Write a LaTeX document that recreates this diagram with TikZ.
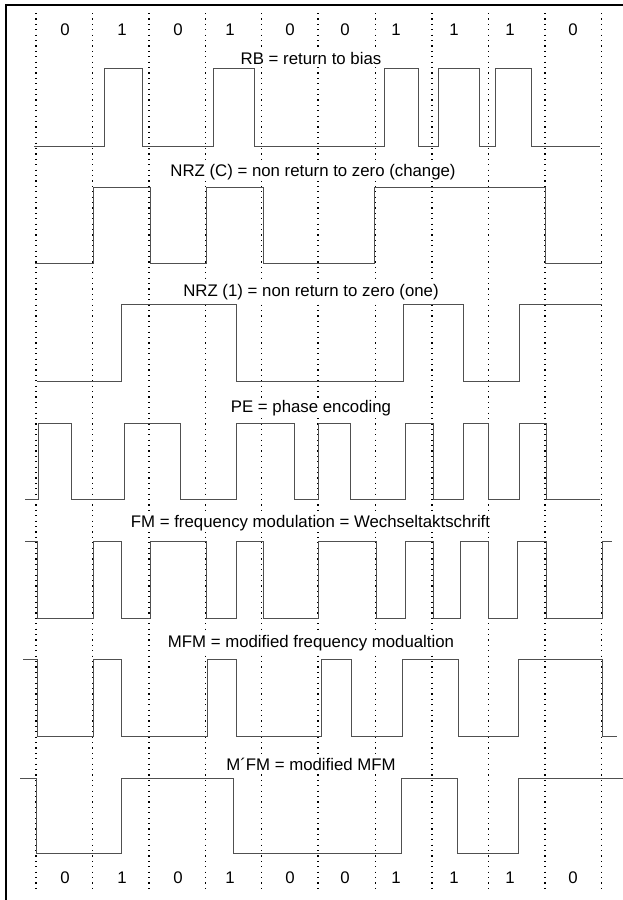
\documentclass[tikz,border=0pt]{standalone}
\usepackage{fontspec}
\setmainfont{Liberation Sans}
\usepackage{xcolor}
\definecolor{ink}{RGB}{0,0,0}
\definecolor{wave}{RGB}{80,80,80}
\tikzset{
  clockline/.style={line width=1.1pt,dash pattern=on 1.1pt off 4.3pt,ink},
  sig/.style={line width=1pt,wave},
  lbl/.style={font=\fontsize{16.8}{20}\selectfont,fill=white,inner sep=1.5pt},
  bit/.style={font=\fontsize{16.8}{20}\selectfont,inner sep=0pt},
  edgeline/.style={line width=2pt,ink},
}

\begin{document}
\begin{tikzpicture}[x=1pt,y=-1pt]
  \useasboundingbox (0,0) rectangle (623,900);
  \draw[edgeline] (5.5,900) -- (5.5,4.5) -- (623,4.5);
  % bit cell boundaries
  \foreach \x in {36,92.7,149,205.3,261.7,318,375.7,432,488.3,545,601.7}
    \draw[clockline] (\x,13) -- (\x,893);
  % bit values, top and bottom
  \foreach \x/\b [count=\i] in {65/0,122/1,178/0,230/1,290/0,345/0,396/1,454/1,510/1,573/0}{
    \node[bit] (t\i) at (\x,30) {\b};
    \node[bit] (b\i) at (\x,878) {\b};
  }
  % RB
  \draw[sig] (34,146) -| (104,68) -| (142,146) -| (213,68) -| (254,146) -| (384,68)
    -| (418,146) -| (438,68) -| (479,146) -| (495,68) -| (531,146) -- (600,146);
  \node[lbl] (rb) at (311,58) {RB = return to bias};
  % NRZ (C)
  \draw[sig] (35,263) -| (93,187) -| (150,263) -| (206,187) -| (263,263) -| (374,187)
    -| (545,263) -- (602,263);
  \node[lbl] (nrzc) at (313,172) {NRZ (C) = non return to zero (change)};
  % NRZ (1)
  \draw[sig] (37,381) -| (121,304) -| (236,381) -| (403,304) -| (463,381) -| (519,304)
    -- (602,304);
  \node[lbl] (nrz1) at (311,292) {NRZ (1) = non return to zero (one)};
  % PE
  \draw[sig] (25,499) -| (38,423) -| (71,499) -| (124,423) -| (180,499) -| (236,423)
    -| (294,499) -| (318,423) -| (350,499) -| (405,423) -| (433,499) -| (463,423)
    -| (488,499) -| (519,423) -| (546,499) -- (600,499);
  \node[lbl] (pe) at (311,408) {PE = phase encoding};
  % FM
  \draw[sig] (25,541) -| (37,618) -| (93,541) -| (121,618) -| (150,541) -| (206,618)
    -| (236,541) -| (263,618) -| (318,541) -| (376,618) -| (405,541) -| (433,618)
    -| (460,541) -| (488,618) -| (517,541) -| (546,618) -| (602,541) -- (612,541);
  \node[lbl] (fm) at (310.5,523) {FM = frequency modulation = Wechseltaktschrift};
  % MFM
  \draw[sig] (23,659) -| (37,736) -| (93,659) -| (121,736) -| (207,659) -| (236,736)
    -| (321,659) -| (351,736) -| (402,659) -| (458,736) -| (518,659) -| (602,736)
    -- (617,736);
  \node[lbl] (mfm) at (311,643) {MFM = modified frequency modualtion};
  % M'FM
  \draw[sig] (20,778) -| (36,853) -| (121,778) -| (233,853) -| (401,778) -| (457,853)
    -| (518,778) -- (623,778);
  \node[lbl] (mmfm) at (311,764) {M´FM = modified MFM};
\end{tikzpicture}
\end{document}
